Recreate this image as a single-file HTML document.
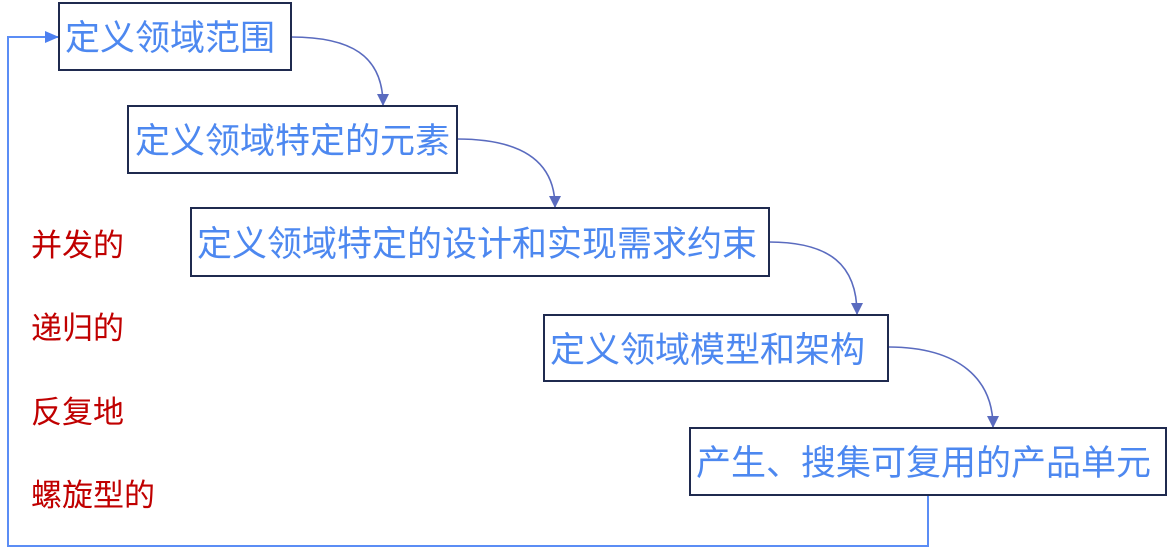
<!DOCTYPE html>
<html><head><meta charset="utf-8"><style>
html,body{margin:0;padding:0;background:#fff;width:1173px;height:552px;overflow:hidden}
svg{display:block}
.b{fill:#fff;stroke:#1f2a4f;stroke-width:2}
.t{font-family:"Liberation Sans","Noto Sans CJK SC",sans-serif;font-size:35px;fill:#4d88f0}
.r{font-family:"Liberation Sans","Noto Sans CJK SC",sans-serif;font-size:31px;fill:#c00000}
.c{fill:none;stroke:#5a6bbf;stroke-width:1.6}
</style></head><body>
<svg width="1173" height="552" viewBox="0 0 1173 552">
<defs>
<marker id="a" markerWidth="12" markerHeight="12" refX="11" refY="6" orient="auto" markerUnits="userSpaceOnUse"><path d="M0,0 L12,6 L0,12 z" fill="#5a6bbf"/></marker>
<marker id="a2" markerWidth="14" markerHeight="12" refX="13" refY="6" orient="auto" markerUnits="userSpaceOnUse"><path d="M0,0 L14,6 L0,12 z" fill="#4d80f0"/></marker>
</defs>
<polyline points="928,496 928,546 8,546 8,37 58,37" fill="none" stroke="#5b8df5" stroke-width="2" marker-end="url(#a2)"/>
<path class="c" d="M291,37 C350,37 383,55 383,105" marker-end="url(#a)"/>
<path class="c" d="M457,139 C520,139 555,160 555,207" marker-end="url(#a)"/>
<path class="c" d="M769,242 C830,242 857,265 857,314" marker-end="url(#a)"/>
<path class="c" d="M888,347 C960,347 993,380 993,427" marker-end="url(#a)"/>
<rect class="b" x="59" y="3" width="232" height="67"/>
<rect class="b" x="128" y="106" width="329" height="67"/>
<rect class="b" x="191" y="208" width="578" height="68"/>
<rect class="b" x="544" y="315" width="344" height="66"/>
<rect class="b" x="690" y="428" width="476" height="67"/>
<text class="t" x="65" y="50">定义领域范围</text>
<text class="t" x="135" y="153">定义领域特定的元素</text>
<text class="t" x="197" y="256">定义领域特定的设计和实现需求约束</text>
<text class="t" x="550" y="362">定义领域模型和架构</text>
<text class="t" x="696" y="475">产生、搜集可复用的产品单元</text>
<text class="r" x="31" y="256">并发的</text>
<text class="r" x="31" y="339">递归的</text>
<text class="r" x="31" y="423">反复地</text>
<text class="r" x="31" y="506">螺旋型的</text>
</svg>
</body></html>
